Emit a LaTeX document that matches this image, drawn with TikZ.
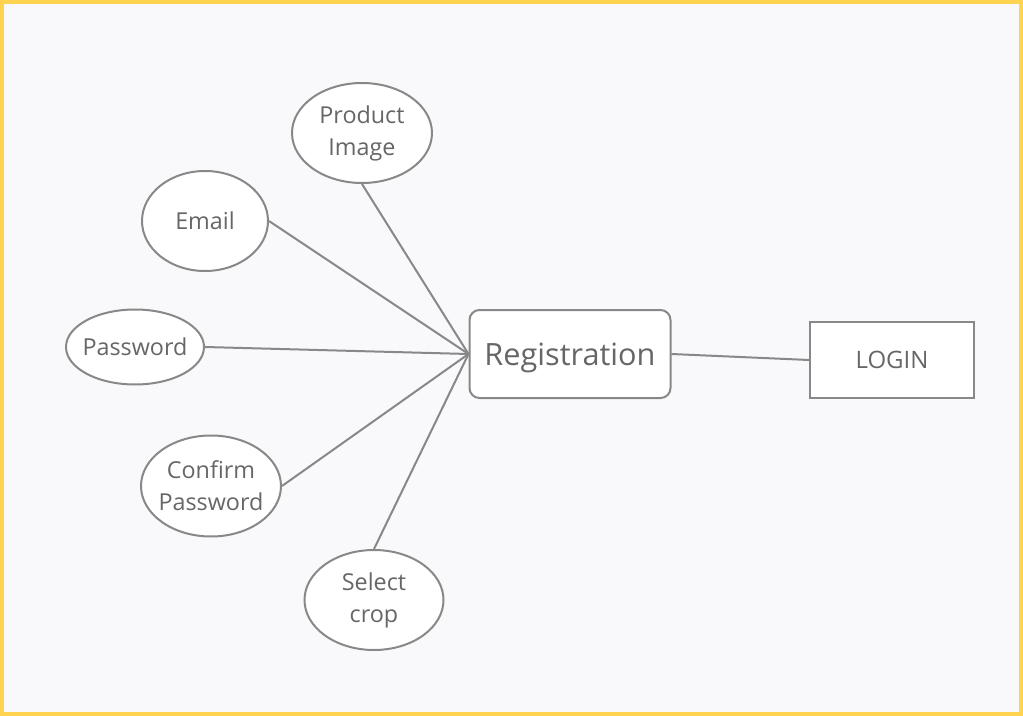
\documentclass[tikz,border=0pt]{standalone}
\usepackage{fontspec}
\setmainfont{Open Sans}
\usetikzlibrary{shapes.geometric}
\definecolor{edgegray}{HTML}{888888}
\definecolor{textgray}{HTML}{666666}
\definecolor{frameyellow}{HTML}{FFD24F}
\definecolor{paper}{HTML}{F9F9FB}
\tikzstyle{attr}=[ellipse,draw=edgegray,fill=white,line width=1.5pt,text=textgray,inner xsep=-3.5pt,inner ysep=0pt,align=center,font=\fontsize{17.5}{24}\selectfont]
\tikzstyle{entity}=[rectangle,draw=edgegray,fill=white,line width=1.5pt,text=textgray,inner sep=0pt]
\tikzstyle{link}=[draw=edgegray,line width=1.5pt]

\begin{document}
\begin{tikzpicture}[x=0.75pt,y=-0.75pt]
\fill[frameyellow] (0,0) rectangle (1023,716);
\fill[paper] (4,4) rectangle (1019,712);
\node[attr,minimum width=105pt,minimum height=75pt] at (362,133) (img) {Product\\Image};
\node[attr,minimum width=94.5pt,minimum height=75pt] at (205,221) (email) {Email};
\node[attr,minimum width=103.5pt,minimum height=56.25pt] at (135,347) (pass) {Password};
\node[attr,minimum width=105pt,minimum height=75.75pt] at (211,486) (cpass) {Confirm\\Password};
\node[attr,minimum width=104.25pt,minimum height=75pt] at (374,600) (crop) {Select\\crop};
\node[entity,rounded corners=7.5pt,minimum width=150.75pt,minimum height=66pt,text depth=0pt,font=\fontsize{23}{27}\selectfont] at (570,354) (reg) {Registration};
\node[entity,minimum width=123pt,minimum height=57pt,font=\fontsize{18}{22}\selectfont] at (892,360) (login) {LOGIN};
\draw[link] (img.south) -- (reg.west);
\draw[link] (email.east) -- (reg.west);
\draw[link] (pass.east) -- (reg.west);
\draw[link] (cpass.east) -- (reg.west);
\draw[link] (crop.north) -- (reg.west);
\draw[link] (reg.east) -- (login.west);
\end{tikzpicture}
\end{document}
